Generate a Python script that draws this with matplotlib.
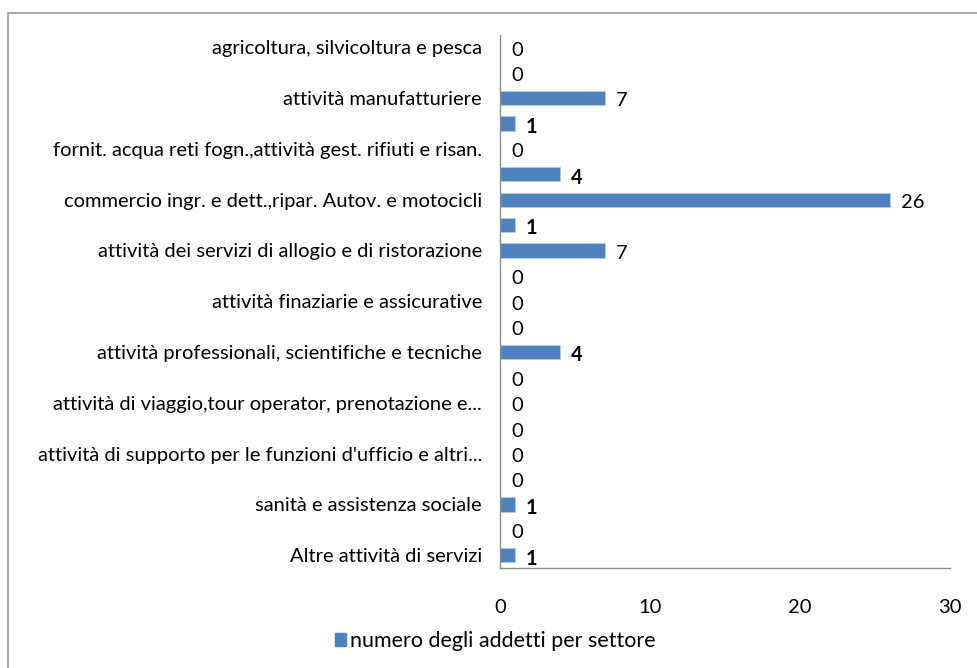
import matplotlib
matplotlib.use("Agg")
import matplotlib.pyplot as plt
from matplotlib.patches import Rectangle

# Sector categories (top to bottom); only every other one gets an axis label
categories = [
    "agricoltura, silvicoltura e pesca",
    "estrazione di minerali da cave e miniere",
    "attività manufatturiere",
    "fornitura di energia elettrica, gas, vapore",
    "fornit. acqua reti fogn.,attività gest. rifiuti e risan.",
    "costruzioni",
    "commercio ingr. e dett.,ripar. Autov. e motocicli",
    "trasporto e magazzinaggio",
    "attività dei servizi di allogio e di ristorazione",
    "servizi di informazione e comunicazione",
    "attività finaziarie e assicurative",
    "attività immobiliari",
    "attività professionali, scientifiche e tecniche",
    "noleggio e servizi alle imprese",
    "attività di viaggio,tour operator, prenotazione e...",
    "servizi di vigilanza e investigazione",
    "attività di supporto per le funzioni d'ufficio e altri...",
    "istruzione",
    "sanità e assistenza sociale",
    "attività artistiche, sportive e di intrattenimento",
    "Altre attività di servizi",
]
addetti = [0, 0, 7, 1, 0, 4, 26, 1, 7, 0, 0, 0, 4, 0, 0, 0, 0, 0, 1, 0, 1]
bold_values = [1, 4]
x_ticks = [0, 10, 20, 30]
series_name = "numero degli addetti per settore"

BAR = "#4F81BD"
FONT = ["Lato", "DejaVu Sans"]
FS = 14.5
plt.rcParams["font.family"] = FONT

fig = plt.figure(figsize=(9.78, 6.68), dpi=100)
fig.patch.set_facecolor("white")

# chart area frame
fig.patches.append(Rectangle((8 / 978, -0.01), 1.0, 1 - 13 / 668 + 0.01,
                             transform=fig.transFigure, fill=False,
                             edgecolor="#9a9a9a", linewidth=1.2))

ax = fig.add_axes([500 / 978, 1 - 568 / 668, 450 / 978, (568 - 34.5) / 668])
ypos = list(range(len(categories)))
ax.barh(ypos, addetti, height=0.56, color=BAR, edgecolor="#b9cde5", linewidth=0.6)

ax.set_xlim(0, 30)
ax.set_ylim(len(categories) - 0.5, -0.5)
ax.set_xticks(x_ticks)
ax.set_xticklabels([str(t) for t in x_ticks])
ax.set_yticks(ypos[::2])
ax.set_yticklabels(categories[::2])
ax.tick_params(axis="y", length=0, pad=13, labelsize=FS, colors="black")
ax.tick_params(axis="x", length=0, pad=22, labelsize=FS, colors="black")

for side in ("top", "right"):
    ax.spines[side].set_visible(False)
for side in ("left", "bottom"):
    ax.spines[side].set_color("#8c8c8c")
    ax.spines[side].set_linewidth(1.0)

for y, v in zip(ypos, addetti):
    ax.annotate(str(v), xy=(v, y), xytext=(8, -1), textcoords="offset points",
                ha="left", va="center_baseline", fontsize=FS,
                fontweight="bold" if v in bold_values else "normal")

handle = Rectangle((0, 0), 1, 1, color=BAR)
fig.legend([handle], [series_name], loc="center", bbox_to_anchor=(495 / 978, 1 - 641 / 668),
           frameon=False, fontsize=15.5, handlelength=0.55, handleheight=0.55,
           handletextpad=0.15)

fig.savefig("out.png", dpi=100)
